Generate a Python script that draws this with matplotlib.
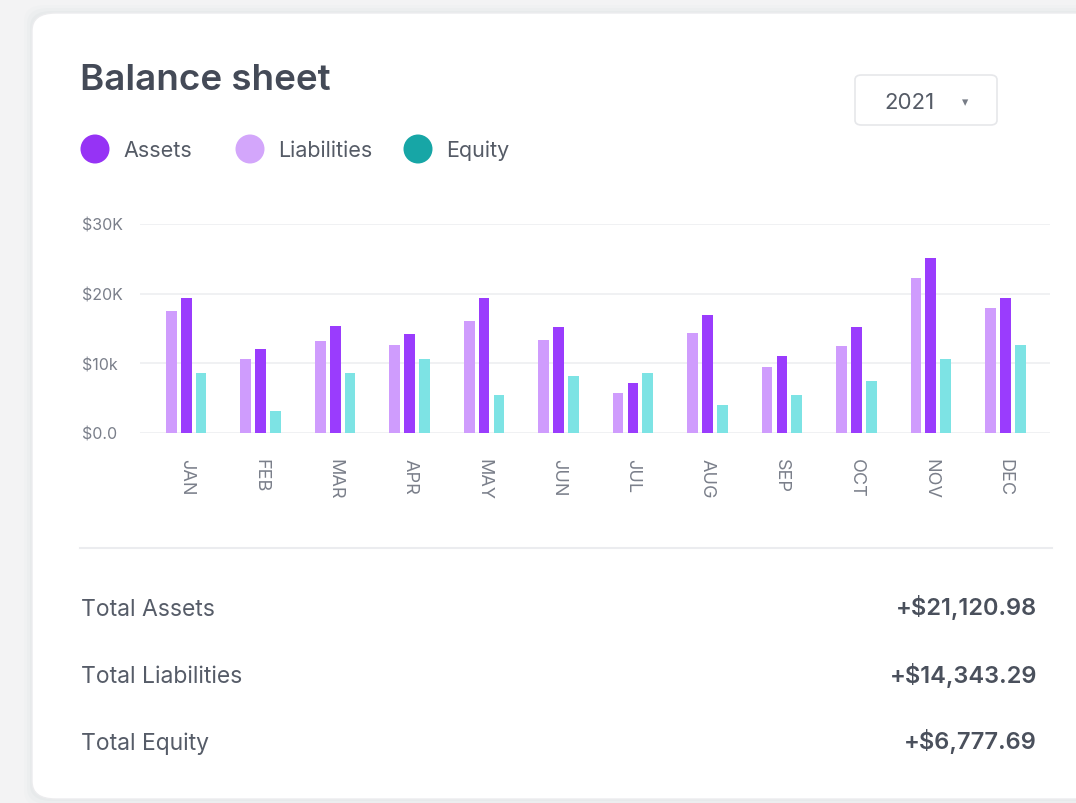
import numpy as np
import matplotlib
matplotlib.use('Agg')
import matplotlib.pyplot as plt
from matplotlib.patches import FancyBboxPatch, Ellipse

months = ['JAN', 'FEB', 'MAR', 'APR', 'MAY', 'JUN', 'JUL', 'AUG', 'SEP', 'OCT', 'NOV', 'DEC']
liabilities = [17.5, 10.6, 13.2, 12.7, 16.1, 13.4, 5.7, 14.4, 9.5, 12.5, 22.3, 17.9]
assets = [19.4, 12.1, 15.3, 14.2, 19.4, 15.2, 7.2, 16.9, 11.0, 15.2, 25.1, 19.4]
equity = [8.6, 3.1, 8.6, 10.6, 5.4, 8.2, 8.6, 4.0, 5.5, 7.5, 10.6, 12.7]
yticks = [0, 10, 20, 30]
ytick_labels = ['$0.0', '$10k', '$20K', '$30K']
total_names = ['Total Assets', 'Total Liabilities', 'Total Equity']
total_values = ['+$21,120.98', '+$14,343.29', '+$6,777.69']
legend_names = ['Assets', 'Liabilities', 'Equity']
year = '2021'

plt.rcParams['font.family'] = ['Inter', 'DejaVu Sans']

W, H = 1076, 804
fig = plt.figure(figsize=(W / 100, H / 100), dpi=100)
fig.patch.set_facecolor('#f3f3f4')

def fx(x):
    return x / W

def fy(y):
    return 1 - y / H

# card with soft shadow
for i, a in enumerate([0.025, 0.035, 0.05]):
    d = 8 - 3 * i
    fig.patches.append(FancyBboxPatch((fx(32 - d), fy(800 + d)), fx(1100), fy(14 - d) - fy(800 + d),
                                      boxstyle='round,pad=0,rounding_size=0.02',
                                      transform=fig.transFigure, facecolor='#9aa0ab', alpha=a,
                                      edgecolor='none', zorder=0))
fig.patches.append(FancyBboxPatch((fx(32), fy(800)), fx(1100), fy(14) - fy(800),
                                  boxstyle='round,pad=0,rounding_size=0.022',
                                  transform=fig.transFigure, facecolor='white',
                                  edgecolor='#ececee', lw=1, zorder=1))

dark = '#444a57'

fig.text(fx(80), fy(81), 'Balance sheet', fontsize=26.5, fontweight='semibold',
         color=dark, va='center', ha='left', zorder=3)

# year dropdown
fig.patches.append(FancyBboxPatch((fx(855), fy(126)), fx(142), fy(76) - fy(126),
                                  boxstyle='round,pad=0,rounding_size=0.006',
                                  transform=fig.transFigure, facecolor='white',
                                  edgecolor='#e6e7ea', lw=1.2, zorder=2))
fig.text(fx(884), fy(103), year, fontsize=16, color='#555b66', va='center', ha='left', zorder=3)
fig.text(fx(965), fy(103), '▾', fontsize=9, color='#777c86', va='center', ha='center', zorder=3)

# legend
leg_colors = ['#9633f5', '#d3a6fb', '#17a6a6']
leg_x = [95, 250, 418]
for name, c, x0 in zip(legend_names, leg_colors, leg_x):
    fig.patches.append(Ellipse((fx(x0), fy(150)), 29 / W, 29 / H, transform=fig.transFigure,
                               facecolor=c, edgecolor='none', zorder=3))
    fig.text(fx(x0 + 28), fy(151), name, fontsize=15.5, color='#555b66', va='center', ha='left', zorder=3)

# bar chart
ax = fig.add_axes([fx(140), fy(434), fx(1050) - fx(140), fy(225) - fy(434)])
ax.set_zorder(5)
ax.set_facecolor('none')
x = np.arange(len(months))
bw = 0.145
off = 0.2
ax.bar(x - off, liabilities, bw, color='#cf9cfd', zorder=2)
ax.bar(x, assets, bw, color='#9a3cfd', zorder=2)
ax.bar(x + off, equity, bw, color='#7de3e4', zorder=2)
ax.set_xlim(-0.62, 11.6)
ax.set_ylim(0, 30)
ax.set_yticks(yticks)
ax.set_yticklabels(ytick_labels)
for yy in yticks:
    ax.axhline(yy, color='#eeeff1', lw=1.2, zorder=1)
for s in ax.spines.values():
    s.set_visible(False)
ax.tick_params(axis='both', length=0, colors='#7a7f8a')
ax.tick_params(axis='y', labelsize=11.5, pad=42)
for lab in ax.get_yticklabels():
    lab.set_horizontalalignment('left')
ax.set_xticks(x)
ax.set_xticklabels(months, rotation=-90, fontsize=13)
ax.tick_params(axis='x', pad=18)

# divider
fig.add_artist(plt.Line2D([fx(80), fx(1052)], [fy(549), fy(549)], color='#ebecef', lw=1.5,
                          transform=fig.transFigure, zorder=3))

# totals
for i, (n, v) in enumerate(zip(total_names, total_values)):
    yy = 610 + i * 67
    fig.text(fx(81), fy(yy), n, fontsize=16.5, color='#565c68', va='center', ha='left', zorder=3)
    fig.text(fx(1037), fy(yy - 2), v, fontsize=17, fontweight='semibold', color='#4a505c',
             va='center', ha='right', zorder=3)

fig.savefig('out.png', dpi=100, facecolor=fig.get_facecolor())
